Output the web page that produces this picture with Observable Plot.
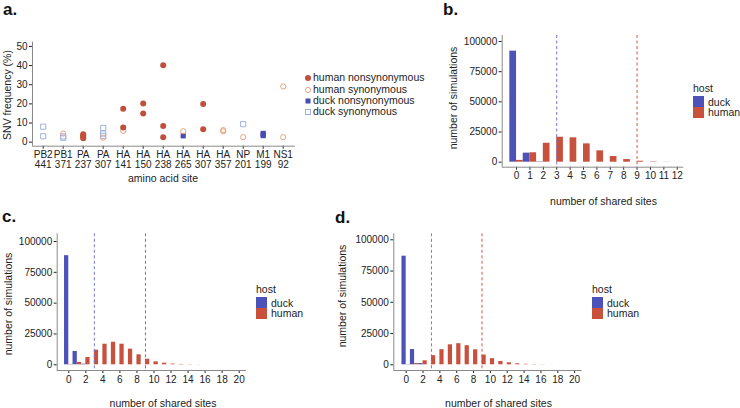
<!DOCTYPE html>
<html><head><meta charset="utf-8">
<script src="https://cdn.jsdelivr.net/npm/d3@7"></script>
<script src="https://cdn.jsdelivr.net/npm/@observablehq/plot@0.6"></script>
<style>
body{margin:0;background:#fff;font-family:"Liberation Sans",Arial,sans-serif;color:#222;}
#root{position:relative;width:740px;height:408px;overflow:hidden;background:#fff;}
.abs{position:absolute;white-space:nowrap;line-height:1;}
.tag{font-weight:bold;font-size:17px;color:#111;}
.ttl{font-size:10.5px;color:#222;}
.sw{position:absolute;width:10px;height:10px;}
</style></head><body><div id="root"></div>
<script>
// ---------- data: panel a ----------
const sites = ["PB2 441","PB1 371","PA 237","PA 307","HA 141","HA 150","HA 238","HA 265","HA 307","HA 357","NP 201","M1 199","NS1 92"];
const humanNonsynSite = ["PA 237","PA 237","PA 237","PA 237","HA 141","HA 141","HA 150","HA 150","HA 238","HA 238","HA 238","HA 307","HA 307"];
const humanNonsynFreq = [4.2,3.5,2.8,2.0,17.5,7.6,20.2,15.0,40.1,8.5,2.6,19.9,6.7];
const humanSynSite = ["PB1 371","PA 307","HA 141","HA 265","HA 357","HA 357","NP 201","NS1 92","NS1 92"];
const humanSynFreq = [4.5,2.3,5.9,5.7,6.3,5.7,2.6,29.1,2.6];
const duckNonsynSite = ["HA 265","M1 199","M1 199","M1 199"];
const duckNonsynFreq = [3.3,3.4,4.0,4.6];
const duckSynSite = ["PB2 441","PB2 441","PB1 371","PB1 371","PA 307","PA 307","PA 307","NP 201"];
const duckSynFreq = [8.1,3.1,3.0,2.3,7.4,4.5,3.3,9.4];
const freqTicks = [0,10,20,30,40,50];
const seriesNames = ["human nonsynonymous","human synonymous","duck nonsynonymous","duck synonymous"];

// ---------- data: panels b, c, d ----------
const hosts = ["duck","human"];
const sharedB = [0,1,2,3,4,5,6,7,8,9,10,11,12];
const duckB  = [92000,7500,300,0,0,0,0,0,0,0,0,0,0];
const humanB = [1500,7800,15700,20700,20200,15200,9400,4700,2200,800,300,120,50];
const sharedCD = [0,1,2,3,4,5,6,7,8,9,10,11,12,13,14,15,16,17,18,19,20];
const duckC  = [88500,10800,500,0,0,0,0,0,0,0,0,0,0,0,0,0,0,0,0,0,0];
const humanC = [300,1900,5900,11900,16700,18300,16700,12700,8100,4500,2400,1300,600,300,150,80,40,20,10,5,2];
const duckD  = [86900,12200,1000,0,0,0,0,0,0,0,0,0,0,0,0,0,0,0,0,0,0];
const humanD = [200,1000,3200,7300,12100,16000,16900,15300,12000,7800,4900,2700,1600,800,400,200,100,50,25,10,5];
const observedDuck = 3;
const observedHuman = 9;
const countTicks = [0,25000,50000,75000,100000];
const ticksB = [0,1,2,3,4,5,6,7,8,9,10,11,12];
const ticksCD = [0,2,4,6,8,10,12,14,16,18,20];

// ---------- styles ----------
const C = {hn:"#c24f3b", hs:"#e9a27e", dn:"#474db0", ds:"#9fb0e0", duck:"#4c52b7", human:"#c8513d", dashDuck:"#7479cc", dashHuman:"#cc5a47", axis:"#8a8a8a"};
const axisStyle = {fontSize:"10px", fontFamily:"Liberation Sans, Arial, sans-serif", color:"#222", background:"transparent", overflow:"visible"};
const root = document.getElementById("root");

function place(node, left, top){
  const w = document.createElement("div");
  w.className = "abs"; w.style.left = left+"px"; w.style.top = top+"px";
  w.appendChild(node); root.appendChild(w); return w;
}
function text(str, cx, cy, cls, rot, anchorLeft){
  const d = document.createElement("div");
  d.className = "abs " + cls; d.textContent = str;
  d.style.left = cx+"px"; d.style.top = cy+"px";
  d.style.transform = (anchorLeft ? "translate(0,-50%)" : "translate(-50%,-50%)") + (rot ? " rotate(-90deg)" : "");
  root.appendChild(d); return d;
}

// ---------- panel a ----------
const idx = s => sites.indexOf(s);
const rowsOf = (ss, vs) => ss.map((s,i) => ({i: idx(s), v: vs[i]}));
const xdomA = [-0.535, 12.615], ydomA = [-2.1, 52.2];
const plotA = Plot.plot({
  width: 305, height: 190, marginLeft: 32, marginRight: 10, marginTop: 41.7, marginBottom: 44.3,
  style: axisStyle,
  x: {domain: xdomA, ticks: sites.map((s,i)=>i), tickFormat: i => sites[i].replace(" ","\n"), tickSize: 3, tickPadding: 2, label: null},
  y: {domain: ydomA, ticks: freqTicks, tickSize: 3, tickPadding: 2, label: null},
  marks: [
    Plot.ruleX([xdomA[0]], {stroke: C.axis}),
    Plot.ruleY([ydomA[0]], {stroke: C.axis}),
    Plot.dot(rowsOf(duckSynSite, duckSynFreq), {x:"i", y:"v", symbol:"square", r:2.9, stroke:C.ds, fill:"none", strokeWidth:1}),
    Plot.dot(rowsOf(duckNonsynSite, duckNonsynFreq), {x:"i", y:"v", symbol:"square", r:2.9, fill:C.dn}),
    Plot.dot(rowsOf(humanSynSite, humanSynFreq), {x:"i", y:"v", r:2.6, stroke:C.hs, fill:"none", strokeWidth:1}),
    Plot.dot(rowsOf(humanNonsynSite, humanNonsynFreq), {x:"i", y:"v", r:3, fill:C.hn})
  ]
});
place(plotA, 0, 0);

// legend a
const legA = [
  {name: seriesNames[0], svg: `<circle cx="6" cy="6" r="3" fill="${C.hn}"/>`},
  {name: seriesNames[1], svg: `<circle cx="6" cy="6" r="2.6" fill="none" stroke="${C.hs}"/>`},
  {name: seriesNames[2], svg: `<rect x="3.5" y="3.5" width="5" height="5" fill="${C.dn}"/>`},
  {name: seriesNames[3], svg: `<rect x="3.5" y="3.5" width="5" height="5" fill="none" stroke="${C.ds}"/>`}
];
legA.forEach((l,i) => {
  const cy = 77.3 + i*11.35;
  const s = document.createElement("div");
  s.className = "abs"; s.style.left = "302px"; s.style.top = (cy-6)+"px";
  s.innerHTML = `<svg width="12" height="12">${l.svg}</svg>`;
  root.appendChild(s);
  text(l.name, 313, cy, "ttl", false, true);
});
text("amino acid site", 163, 178, "ttl");
text("SNV frequency (%)", 7, 95, "ttl", true);

// ---------- bar panels ----------
function bars(ks, duck, human, o){
  const rows = ks.flatMap((k,i) => [{k, host:"duck", n:duck[i]}, {k, host:"human", n:human[i]}]);
  return Plot.plot({
    width:o.width, height:o.height, marginLeft:o.ml, marginRight:o.mr, marginTop:o.mt, marginBottom:o.mb,
    style: axisStyle,
    x: {domain:o.xdom, ticks:o.xticks, tickFormat:d3.format("d"), tickSize:3, tickPadding:2, label:null},
    y: {domain:o.ydom, ticks:countTicks, tickFormat:d3.format("d"), tickSize:3, tickPadding:2, label:null},
    color: {domain:hosts, range:[C.duck, C.human]},
    marks: [
      Plot.rectY(rows, {x1: d => d.host==="duck" ? d.k-0.5 : d.k, x2: d => d.host==="duck" ? d.k : d.k+0.5, y1:0, y2:"n", fill:"host"}),
      Plot.ruleX([observedDuck], {stroke:C.dashDuck, strokeDasharray:"3,2.5", strokeWidth:1}),
      Plot.ruleX([observedHuman], {stroke:C.dashHuman, strokeDasharray:"3,2.5", strokeWidth:1}),
      Plot.ruleX([o.xdom[0]], {stroke:C.axis}),
      Plot.ruleY([o.ydom[0]], {stroke:C.axis})
    ]
  });
}
function hostLegend(left, topHost){
  text("host", left, topHost, "ttl", false, true);
  hosts.forEach((h,i) => {
    const s = document.createElement("div");
    s.className = "sw"; s.style.left = left+"px"; s.style.top = (topHost+8+i*10.8)+"px";
    s.style.width = "10.5px"; s.style.height = "10.5px";
    s.style.background = i===0 ? C.duck : C.human;
    root.appendChild(s);
    text(h, left+15, topHost+13.3+i*10.8, "ttl", false, true);
  });
}

// panel b
place(bars(sharedB, duckB, humanB, {width:320, height:200, ml:131.7, mr:6.7, mt:35, mb:33.3, xdom:[-1.07,12.49], ydom:[-4140,104970], xticks:ticksB}), 370, 0);
hostLegend(693, 88.3);
text("number of simulations", 452.5, 98.3, "ttl", true);
text("number of shared sites", 603.5, 201, "ttl");

// panel c
place(bars(sharedCD, duckC, humanC, {width:260, height:208, ml:56.7, mr:14, mt:33.3, mb:38, xdom:[-1.36,20.86], ydom:[-4620,106240], xticks:ticksCD}), 0, 200);
hostLegend(256, 289.3);
text("number of simulations", 8, 304, "ttl", true);
text("number of shared sites", 163, 402.7, "ttl");

// panel d
place(bars(sharedCD, duckD, humanD, {width:260, height:208, ml:63.3, mr:8.3, mt:33.3, mb:38, xdom:[-1.47,20.9], ydom:[-4560,104800], xticks:ticksCD}), 330, 200);
hostLegend(592, 289.3);
text("number of simulations", 341.7, 295.5, "ttl", true);
text("number of shared sites", 498.5, 403.3, "ttl");

// panel tags
text("a.", 3, 9, "tag", false, true);
text("b.", 443, 9, "tag", false, true);
text("c.", 2, 216, "tag", false, true);
text("d.", 335, 217, "tag", false, true);
</script></body></html>
